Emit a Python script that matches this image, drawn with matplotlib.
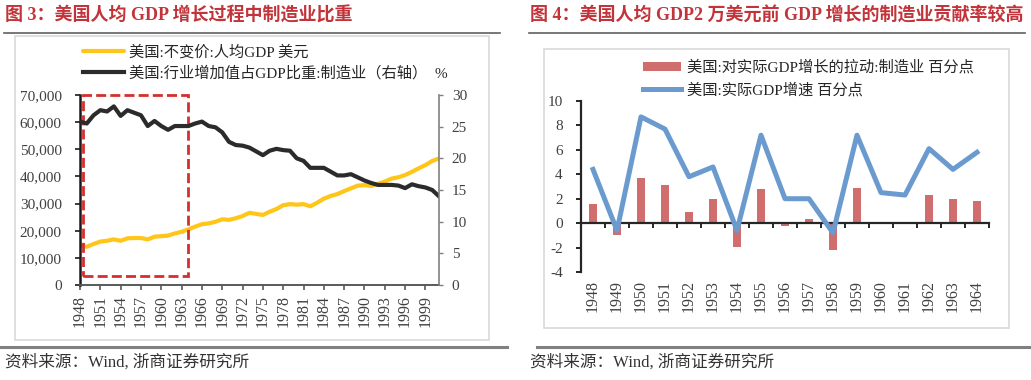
import numpy as np
import matplotlib
matplotlib.use("Agg")
import matplotlib.pyplot as plt
from matplotlib.patches import Rectangle
from matplotlib.lines import Line2D
from matplotlib.ticker import FuncFormatter

plt.rcParams['font.family'] = ['Liberation Serif', 'Noto Sans CJK SC']
plt.rcParams['axes.unicode_minus'] = False

# ---- data: chart 3 (1948-2001) ----
years_3 = list(range(1948, 2002))
gdp_per_capita = [14500, 14100, 15100, 16000, 16300, 16800, 16300, 17200, 17300, 17300,
                  16800, 17800, 18000, 18200, 19000, 19600, 20500, 21500, 22400, 22700,
                  23300, 24200, 24000, 24600, 25400, 26600, 26200, 25800, 27000, 28000,
                  29400, 29800, 29600, 29800, 29000, 30300, 31800, 32800, 33500, 34600,
                  35600, 36600, 36800, 36500, 37300, 38100, 39200, 39700, 40500, 41700,
                  43000, 44200, 45700, 46600]
mfg_share = [25.8, 25.5, 26.8, 27.6, 27.4, 28.2, 26.7, 27.6, 27.2, 26.8,
             25.1, 25.9, 25.1, 24.5, 25.1, 25.1, 25.1, 25.5, 25.8, 25.1,
             24.9, 24.1, 22.6, 22.1, 22.0, 21.7, 21.1, 20.5, 21.2, 21.5,
             21.3, 21.2, 20.0, 19.6, 18.5, 18.5, 18.5, 17.9, 17.3, 17.3,
             17.5, 17.0, 16.5, 16.1, 15.8, 15.8, 15.8, 15.7, 15.3, 15.9,
             15.6, 15.4, 15.0, 14.0]
xticks_3 = list(range(1948, 2000, 3))
highlight_x = (1948.4, 1963.9)
highlight_y = (3300, 70000)

# ---- data: chart 4 (1948-1964) ----
years_4 = [str(y) for y in range(1948, 1965)]
mfg_contrib = [1.6, -1.0, 3.7, 3.1, 0.95, 1.95, -1.95, 2.8, -0.2, 0.3,
               -2.2, 2.9, 0.0, 0.0, 2.3, 2.0, 1.8]
gdp_growth = [4.4, -0.6, 8.7, 7.7, 3.8, 4.6, -0.6, 7.2, 2.0, 2.0,
              -0.8, 7.2, 2.5, 2.3, 6.1, 4.4, 5.8]

title_3 = "图 3：美国人均 GDP 增长过程中制造业比重"
title_4 = "图 4：美国人均 GDP2 万美元前 GDP 增长的制造业贡献率较高"
label_gdp = "美国:不变价:人均GDP 美元"
label_share = "美国:行业增加值占GDP比重:制造业（右轴）  %"
label_contrib = "美国:对实际GDP增长的拉动:制造业 百分点"
label_growth = "美国:实际GDP增速 百分点"
source = "资料来源：Wind, 浙商证券研究所"

W, H = 1031, 380
fig = plt.figure(figsize=(W / 100, H / 100), dpi=100)


def fx(p):
    return p / W


def fy(p):
    return 1 - p / H


def box(x0, y0, x1, y1):
    return [fx(x0), fy(y1), (x1 - x0) / W, (y1 - y0) / H]


RED = '#C2343A'
TXT = '#404040'

# frames, rules, titles, sources
for x0, y0, x1, y1 in [(15, 36, 489, 340), (544, 49, 1009, 328)]:
    fig.add_artist(Rectangle((fx(x0), fy(y1)), (x1 - x0) / W, (y1 - y0) / H,
                             transform=fig.transFigure, fill=False, ec='#D9D9D9', lw=1.2))
for x0, x1 in [(4, 500), (529, 1025)]:
    fig.add_artist(Line2D([fx(x0), fx(x1)], [fy(33), fy(33)], color='#606060', lw=1.2))
for x0, x1 in [(0, 507), (537, 1031)]:
    fig.add_artist(Line2D([fx(x0), fx(x1)], [fy(347), fy(347)], color='#808080', lw=2.2))
fig.text(fx(5), fy(16), title_3, fontsize=13, fontweight='bold', color=RED, va='center')
fig.text(fx(530), fy(16), title_4, fontsize=13, fontweight='bold', color=RED, va='center')
fig.text(fx(5), fy(362), source, fontsize=12, color='#333333', va='center')
fig.text(fx(530), fy(362), source, fontsize=12, color='#333333', va='center')

# ---- chart 3 ----
ax1 = fig.add_axes(box(80, 95, 439, 285))
ax1r = ax1.twinx()
l1, = ax1.plot(years_3, gdp_per_capita, color='#FFC61A', lw=3, solid_capstyle='round',
               label=label_gdp)
l2, = ax1r.plot(years_3, mfg_share, color='#2B2B2B', lw=3, label=label_share)
ax1.set_xlim(1948, 2001)
ax1.set_ylim(0, 70000)
ax1r.set_ylim(0, 30)
ax1.set_yticks(range(0, 70001, 10000))
ax1.yaxis.set_major_formatter(FuncFormatter(lambda v, p: f"{int(v):,}"))
ax1r.set_yticks(range(0, 31, 5))
ax1.set_xticks(xticks_3)
ax1.set_xticklabels([str(y) for y in xticks_3], rotation=90)
for s in ['top', 'right']:
    ax1.spines[s].set_visible(False)
for s in ['top', 'left', 'bottom']:
    ax1r.spines[s].set_visible(False)
ax1.spines['left'].set_color('#1A1A1A')
ax1.spines['left'].set_linewidth(1.8)
ax1.spines['bottom'].set_color('#595959')
ax1.spines['bottom'].set_linewidth(1.4)
ax1r.spines['right'].set_color('#808080')
ax1r.spines['right'].set_linewidth(1.2)
ax1.tick_params(axis='y', length=3.6, width=1.2, pad=9.5, labelsize=11, colors=TXT)
ax1.tick_params(axis='y', color='#1A1A1A')
ax1.tick_params(axis='x', length=3.6, width=1.2, pad=3.5, labelsize=11.5, colors=TXT)
ax1.tick_params(axis='x', color='#595959')
ax1r.tick_params(axis='y', length=3.2, width=1.0, pad=6, labelsize=11, colors=TXT)
ax1r.tick_params(axis='y', color='#808080')
ax1.add_patch(Rectangle((highlight_x[0], highlight_y[0]), highlight_x[1] - highlight_x[0],
                        highlight_y[1] - highlight_y[0], fill=False, ec='#D32F2F', lw=2,
                        linestyle=(0, (3.6, 1.5)), clip_on=False, zorder=5))
fig.legend(handles=[l1, l2], loc='upper left', bbox_to_anchor=(fx(83), fy(45)),
           frameon=False, borderpad=0, borderaxespad=0, fontsize=11,
           handlelength=2.7, handletextpad=0.3, labelspacing=0.42, labelcolor='#262626')

# ---- chart 4 ----
ax2 = fig.add_axes(box(581, 101, 989, 272))
ax2.spines['bottom'].set_position(('data', 0))
x = np.arange(len(years_4))
b = ax2.bar(x, mfg_contrib, width=0.32, color='#CF6E6C', label=label_contrib, zorder=2)
l3, = ax2.plot(x, gdp_growth, color='#6B9BCE', lw=3.6, label=label_growth, zorder=3)
ax2.set_xlim(-0.5, len(years_4) - 0.5)
ax2.set_ylim(-4, 10)
ax2.set_yticks(range(-4, 11, 2))
ax2.set_xticks(x)
ax2.set_xticklabels(years_4)
ax2.set_xticks(np.arange(-0.5, len(years_4), 1), minor=True)
for s in ['top', 'right']:
    ax2.spines[s].set_visible(False)
for s in ['left', 'bottom']:
    ax2.spines[s].set_color('#262626')
    ax2.spines[s].set_linewidth(1.6)
ax2.tick_params(axis='x', which='major', length=0, pad=41, labelsize=11.5, colors=TXT,
                labelrotation=90)
ax2.tick_params(axis='x', which='minor', length=3.6, width=1.4, color='#262626')
ax2.tick_params(axis='y', length=3.6, width=1.4, pad=9.5, labelsize=11, colors=TXT)
ax2.tick_params(axis='y', color='#262626')
fig.legend(handles=[b, l3], loc='upper left', bbox_to_anchor=(fx(643), fy(60)),
           frameon=False, borderpad=0, borderaxespad=0, fontsize=11,
           handlelength=2.5, handleheight=0.5, handletextpad=0.4, labelspacing=0.5,
           labelcolor='#262626')

fig.savefig("out.png", dpi=100)
